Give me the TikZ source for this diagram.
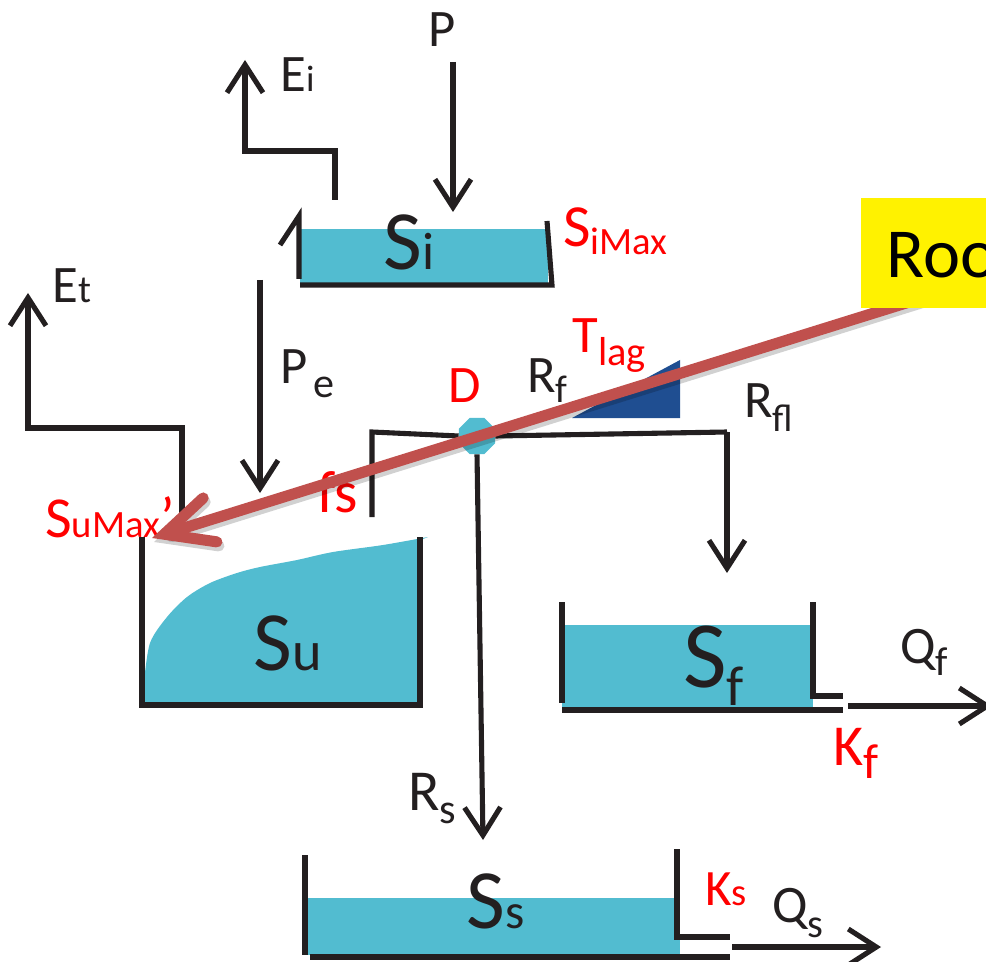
\documentclass[tikz,border=0pt]{standalone}
\usepackage{fontspec}
\setmainfont{Carlito}
\usepackage{tikz}
\usetikzlibrary{arrows.meta,shapes.geometric}

\definecolor{tankblue}{RGB}{82,188,208}
\definecolor{lagblue}{RGB}{31,78,145}
\definecolor{pointred}{RGB}{192,80,77}
\definecolor{ink}{RGB}{35,31,32}

% text in a given size, and a lowered subscript
\newcommand{\fsz}[2]{{\fontsize{#1}{#1}\selectfont #2}}
\newcommand{\low}[3]{\raisebox{-#2}{\fsz{#1}{#3}}}

\begin{document}
\begin{tikzpicture}[x=0.02cm,y=-0.02cm,
    wall/.style={ink,line width=2.9pt},
    flow/.style={ink,line width=2.9pt,-{Straight Barb[length=5.6mm,width=7.2mm]}},
    water/.style={fill=tankblue,draw=none},
    lbl/.style={anchor=base west,inner sep=0pt,text=ink},
    redlbl/.style={lbl,text=red},
    pointer/.style={pointred,line width=6.3pt,line cap=round,line join=round,
        -{Straight Barb[length=9.6mm,width=9.2mm,line cap=round]}}
]
\path[use as bounding box] (0,0) rectangle (986,962);
\clip (0,0) rectangle (986,962);

% interception store
\fill[water] (300,229) rectangle (548,284);
\draw[wall] (299,279) -- (299,216) -- (280,245);
\draw[wall] (300,285) -- (552,285) -- (547,221);
\node[lbl] (si) at (383,270) {\fsz{48pt}{S}\fsz{30pt}{i}};
\node[redlbl] (simax) at (563,247) {\fsz{34pt}{S}\low{22pt}{0.16cm}{iMax}};

\node[lbl] (p) at (428,47) {\fsz{30pt}{P}};
\coordinate (pTop) at (453,62);
\coordinate (pTip) at (453,212);
\draw[flow] (pTop) -- (pTip);

\coordinate (eiFoot) at (335,200);
\coordinate (eiTip) at (245,60);
\draw[flow] (eiFoot) |- (245,151) -- (eiTip);
\node[lbl] (ei) at (280,92) {\fsz{30pt}{E}\fsz{21pt}{i}};

% unsaturated zone
\fill[water] (144,703) -- plot[smooth] coordinates {(144,682) (150,643) (167,617)
    (187,597) (210,583) (237,573) (260,567) (297,560) (333,552) (383,545) (428,537)}
    -- (418,541) -- (418,703) -- cycle;
\draw[wall] (142,537) -- (142,705) -- (420,705) -- (420,537);
\node[lbl] (su) at (253,670) {\fsz{48pt}{S}\fsz{32pt}{u}};
\node[redlbl] (sumax) at (45,537) {\fsz{33pt}{S}\fsz{22pt}{uMax}\fsz{33pt}{’}};

\coordinate (etFoot) at (182,513);
\coordinate (etTip) at (28,293);
\draw[flow] (etFoot) |- (28,428) -- (etTip);
\node[lbl] (et) at (52,303) {\fsz{30pt}{E}\fsz{22pt}{t}};

\coordinate (peTop) at (260,280);
\coordinate (peTip) at (260,493);
\draw[flow] (peTop) -- (peTip);
\node[lbl] (pe) at (280,383) {\fsz{30pt}{P}\kern0.12cm\low{24pt}{0.3cm}{e}};

% splitter
\node[regular polygon,regular polygon sides=8,fill=tankblue,minimum size=0.78cm,inner sep=0pt] (d) at (477,436) {};
\coordinate (splitL) at (372,432);
\coordinate (splitR) at (727,432);
\coordinate (sfTip) at (727,573);
\coordinate (ssTip) at (483,840);
\draw[wall] (372,517) -- (splitL) -- (d.west);
\draw[wall] (d.east) -- (splitR);
\draw[flow] (splitR) -- (sfTip);
\draw[flow] (d.south) -- (ssTip);
\node[redlbl] (dlbl) at (448,402) {\fsz{30pt}{D}};
\node[redlbl] (fslbl) at (317,512) {\fsz{34pt}{fs}};
\fill[lagblue] (572,418) -- (680,360) -- (680,418) -- cycle;
\node[lbl] (rf) at (527,393) {\fsz{30pt}{R}\low{22pt}{0.2cm}{f}};
\node[redlbl] (tlag) at (572,353) {\fsz{30pt}{T}\low{23pt}{0.26cm}{lag}};
\node[lbl] (rfl) at (744,418) {\fsz{30pt}{R}\low{22pt}{0.28cm}{fl}};

% fast reservoir
\fill[water] (562,625) rectangle (813,708);
\draw[wall] (562,602) -- (562,703);
\draw[wall] (562,710) -- (843,710);
\draw[wall] (813,602) -- (813,696) -- (843,696);
\node[lbl] (sf) at (683,687) {\fsz{54pt}{S}\low{32pt}{0.36cm}{f}};
\coordinate (qfOut) at (848,706);
\coordinate (qfTip) at (992,706);
\draw[flow] (qfOut) -- (qfTip);
\node[lbl] (qf) at (900,663) {\fsz{30pt}{Q}\low{23pt}{0.24cm}{f}};
\node[redlbl] (kf) at (833,765) {\fsz{33pt}{K}\low{28pt}{0.26cm}{f}};

% slow reservoir
\node[lbl] (rs) at (408,810) {\fsz{33pt}{R}\low{24pt}{0.26cm}{s}};
\fill[water] (306,898) rectangle (680,955);
\draw[wall] (305,855) -- (305,955);
\draw[wall] (310,957) -- (730,957);
\draw[wall] (677,849) -- (677,937) -- (730,937);
\node[lbl] (ss) at (466,928) {\fsz{48pt}{S}\fsz{28pt}{s}};
\node[redlbl] (ks) at (705,905) {\fsz{29pt}{K}\fsz{22pt}{s}};
\coordinate (qsOut) at (732,947);
\coordinate (qsTip) at (881,947);
\draw[flow] (qsOut) -- (qsTip);
\node[lbl] (qs) at (772,922) {\fsz{30pt}{Q}\low{23pt}{0.3cm}{s}};

% callout
\coordinate (callTail) at (935,294);
\coordinate (callTip) at (152,538);
\draw[pointer,black,opacity=0.18] ([shift={(2,4)}]callTail) -- ([shift={(2,4)}]callTip);
\draw[pointer] (callTail) -- (callTip);
\node[fill=yellow,anchor=north west,minimum width=2.9cm,minimum height=2.2cm,inner sep=0pt] (callout) at (861,198) {};
\node[lbl,text=black] (root) at (886,278) {\fsz{40pt}{Roo}};
\end{tikzpicture}
\end{document}
